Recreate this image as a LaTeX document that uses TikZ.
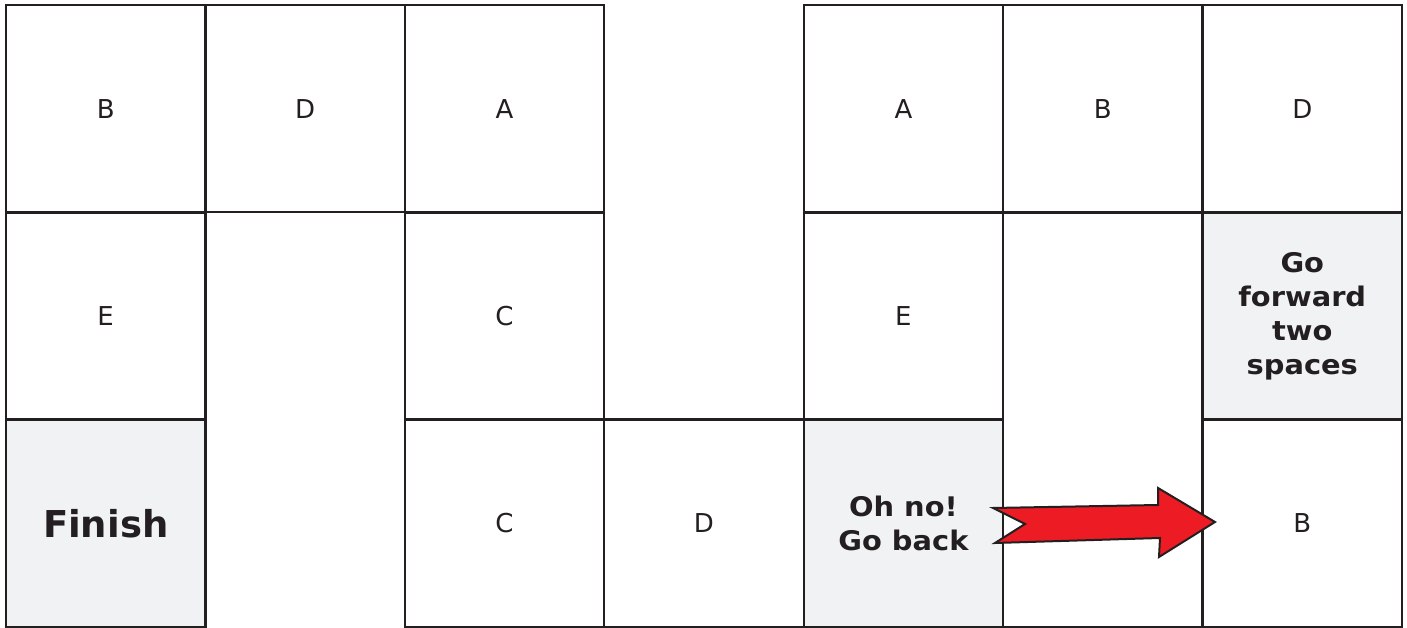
\documentclass[tikz,border=0pt]{standalone}
\usepackage{fontspec}
\setmainfont{DejaVu Sans}
\newfontfamily\widebold{DejaVu Sans Bold}[FakeStretch=1.07]
\definecolor{ln}{HTML}{231F20}
\definecolor{gr}{HTML}{F1F2F4}
\definecolor{rd}{HTML}{ED1C24}
\begin{document}
\begin{tikzpicture}[x=1pt,y=1pt,
  cell/.style={draw=ln, line width=2.4pt, minimum width=199.4pt, minimum height=207.3pt,
    inner sep=0pt, outer sep=0pt, anchor=north west, text=ln,
    font=\fontsize{26}{30}\selectfont},
  grey/.style={cell, fill=gr, align=center, font=\widebold\fontsize{27}{35}\selectfont},
  tall/.style={cell, minimum height=414.7pt},
  arrowshape/.style={fill=rd, draw=ln, line width=2pt, line join=miter}]
\useasboundingbox (0,0) rectangle (1407,628);
% row 1
\node[cell] (b1) at (6,623) {B};
\node[cell] (d1) at (205.43,623) {D};
\node[cell] (a1) at (404.86,623) {A};
\node[cell] (a2) at (803.71,623) {A};
\node[cell] (b2) at (1003.14,623) {B};
\node[cell] (d2) at (1202.57,623) {D};
% row 2
\node[cell] (e1) at (6,415.67) {E};
\node[cell] (c1) at (404.86,415.67) {C};
\node[cell] (e2) at (803.71,415.67) {E};
\node[tall] (gap) at (1003.14,415.67) {};
\node[grey] (fwd) at (1202.57,415.67) {Go\\[-1pt]forward\\[-1pt]two\\[-1pt]spaces};
% row 3
\node[grey, font=\bfseries\fontsize{37}{40}\selectfont] (fin) at (6,208.33) {Finish};
\node[cell] (c2) at (404.86,208.33) {C};
\node[cell] (d3) at (604.29,208.33) {D};
\node[grey] (back) at (803.71,208.33) {Oh no!\\[-1pt]Go back};
\node[cell] (b3) at (1202.57,208.33) {B};
% arrow
\coordinate (t1) at (993,120);
\coordinate (t2) at (1025,104);
\coordinate (t3) at (995,85);
\coordinate (s1) at (1160,90);
\coordinate (h1) at (1159,71);
\coordinate (tip) at (1215,106);
\coordinate (h2) at (1158,140);
\coordinate (s2) at (1158,123);
\draw[arrowshape] (t1) -- (t2) -- (t3) -- (s1) -- (h1) -- (tip) -- (h2) -- (s2) -- cycle;
\end{tikzpicture}
\end{document}
